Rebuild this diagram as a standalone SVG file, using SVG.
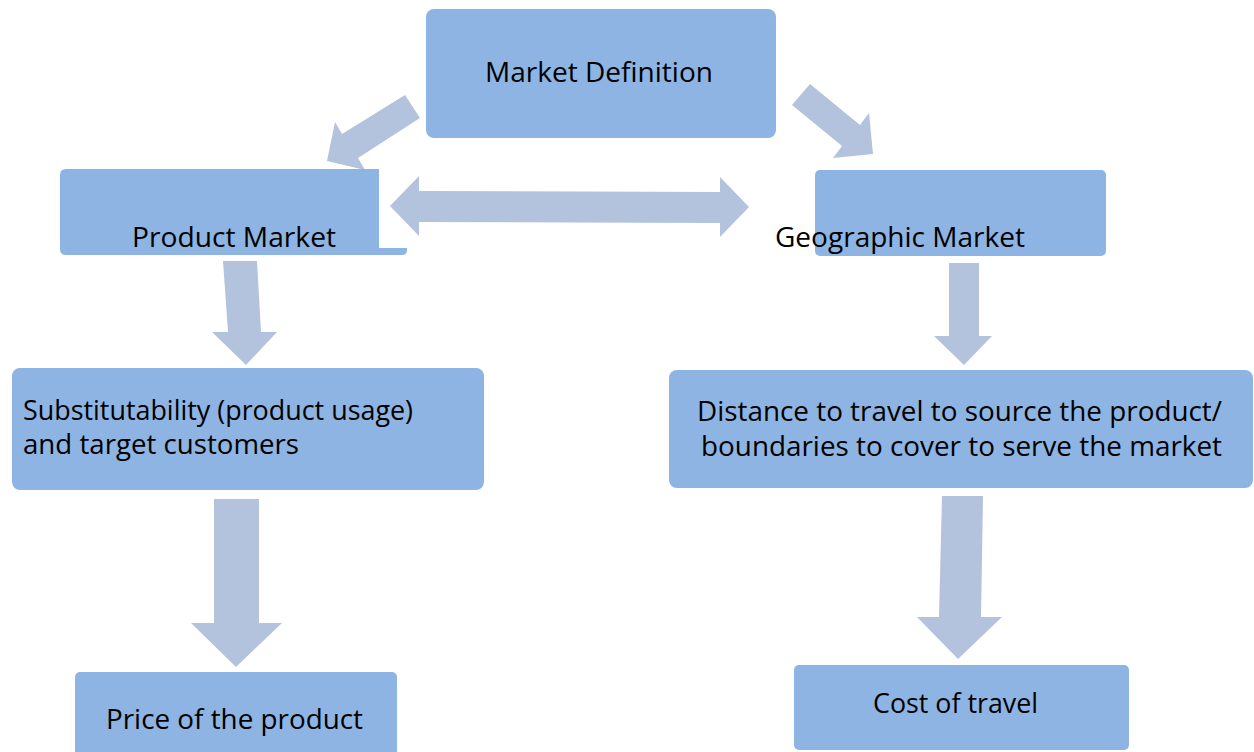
<svg xmlns="http://www.w3.org/2000/svg" width="1254" height="752" viewBox="0 0 1254 752">
  <style>
    .box { fill: #8eb4e3; }
    .arrow { fill: #b3c2dd; }
    .label { font-family: "Open Sans", "Noto Sans", "Liberation Sans", sans-serif; font-size: 26.5px; fill: #000; }
  </style>
  <rect width="1254" height="752" fill="#ffffff"/>

  <!-- block arrows between the boxes -->
  <g id="connectors">
    <polygon class="arrow" points="405,95 342,134 335,122 327,161 365,170 358,158 420,118"/>
    <polygon class="arrow" points="810,84 860,125 869,113 873,154 833,158 842,146 792,105"/>
    <polygon class="arrow" points="390,206 419,176 419,191 720,192 720,177 749,207 720,237 720,223 419,222 419,236"/>
    <polygon class="arrow" points="223,261 257,261 261,332 277,332 246,365 212,332 228,332"/>
    <polygon class="arrow" points="949,263 979,263 979,336 992,336 964,365 934,336 949,336"/>
    <polygon class="arrow" points="214,499 259,499 259,623 282,623 236,667 191,623 214,623"/>
    <polygon class="arrow" points="942,496 983,496 981,617 1002,617 958,659 917,617 939,617"/>
  </g>

  <g id="market-definition">
    <rect class="box" x="426" y="9" width="350" height="129" rx="8"/>
    <text class="label" x="485" y="82" textLength="228" lengthAdjust="spacingAndGlyphs">Market Definition</text>
  </g>

  <g id="product-market">
    <path class="box" d="M66,169 H379 V248 H407 V250 Q407,255 402,255 H66 Q60,255 60,249 V175 Q60,169 66,169 Z"/>
    <text class="label" x="132" y="247" textLength="204" lengthAdjust="spacingAndGlyphs">Product Market</text>
  </g>

  <g id="geographic-market">
    <rect class="box" x="815" y="170" width="291" height="86" rx="5"/>
    <text class="label" x="775" y="247" textLength="250" lengthAdjust="spacingAndGlyphs">Geographic Market</text>
  </g>

  <g id="substitutability">
    <rect class="box" x="12" y="368" width="472" height="122" rx="8"/>
    <text class="label" x="23" y="420" textLength="390" lengthAdjust="spacingAndGlyphs">Substitutability (product usage)</text>
    <text class="label" x="23" y="454" textLength="276" lengthAdjust="spacingAndGlyphs">and target customers</text>
  </g>

  <g id="distance">
    <rect class="box" x="669" y="370" width="584" height="118" rx="8"/>
    <text class="label" x="697" y="421" textLength="525" lengthAdjust="spacingAndGlyphs">Distance to travel to source the product/</text>
    <text class="label" x="701" y="456" textLength="521" lengthAdjust="spacingAndGlyphs">boundaries to cover to serve the market</text>
  </g>

  <g id="price">
    <rect class="box" x="75" y="672" width="322" height="95" rx="5"/>
    <text class="label" x="106" y="729" textLength="257" lengthAdjust="spacingAndGlyphs">Price of the product</text>
  </g>

  <g id="cost-of-travel">
    <rect class="box" x="794" y="665" width="335" height="85" rx="5"/>
    <text class="label" x="873" y="713" textLength="165" lengthAdjust="spacingAndGlyphs">Cost of travel</text>
  </g>
</svg>
